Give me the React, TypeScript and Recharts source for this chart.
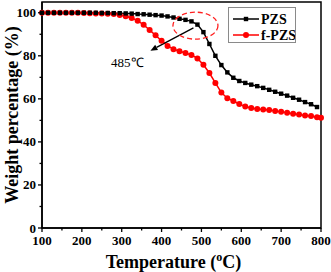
import React from 'react';
import {
  LineChart,
  Line,
  XAxis,
  YAxis,
  ReferenceDot,
  ReferenceLine,
  ReferenceArea
} from 'recharts';

// temperature (°C)
const temps = [
  100, 115, 130, 145, 160, 175, 190, 205, 220, 235, 250, 265, 280, 295, 310, 325,
  340, 355, 370, 385, 400, 415, 430, 445, 460, 475, 490, 505, 520, 535, 550, 565,
  580, 595, 610, 625, 640, 655, 670, 685, 700, 715, 730, 745, 760, 775, 790, 800
];

// weight percentage (%)
const pzs = [
  100, 100, 100, 100, 100, 100, 100, 100, 100, 100, 99.9, 99.9, 99.8, 99.8, 99.7, 99.6,
  99.4, 99.3, 99.1, 98.9, 98.7, 98.3, 97.8, 97.2, 96.7, 96.0, 94.5, 91.0, 85.5, 80.0, 75.7, 72.3,
  69.8, 68.3, 67.4, 66.6, 65.9, 65.1, 64.2, 63.3, 62.4, 61.5, 60.5, 59.6, 58.5, 57.5, 56.2, null
];
const fpzs = [
  100, 100, 100, 100, 100, 100, 100, 99.9, 99.8, 99.7, 99.6, 99.5, 99.4, 99.0, 98.4, 97.6,
  96.3, 94.4, 92.0, 89.5, 87.0, 84.6, 83.1, 82.1, 81.3, 80.4, 78.8, 75.8, 72.0, 67.4, 62.9, 60.3,
  59.0, 57.6, 56.4, 55.8, 55.3, 55.0, 54.8, 54.4, 54.0, 53.6, 53.1, 52.7, 52.3, 52.0, 51.5, 51.2
];

const xTicks = [100, 150, 200, 250, 300, 350, 400, 450, 500, 550, 600, 650, 700, 750, 800];
const yTicks = [0, 10, 20, 30, 40, 50, 60, 70, 80, 90, 100];

const data = temps.map((t, i) => ({ t, pzs: pzs[i], fpzs: fpzs[i] }));

const FONT = '"Liberation Serif", "Times New Roman", serif';

const XTick = (props: any) => {
  const { x, y, payload } = props;
  const major = payload.value % 100 === 0;
  return (
    <g>
      <line x1={x} y1={y} x2={x} y2={y + (major ? 4 : 2.5)} stroke="#000" strokeWidth={1.3} />
      {major && (
        <text x={x} y={y + 17} textAnchor="middle" fontFamily={FONT} fontWeight="bold" fontSize={13} fill="#000">
          {payload.value}
        </text>
      )}
    </g>
  );
};

const YTick = (props: any) => {
  const { x, y, payload } = props;
  const major = payload.value % 20 === 0;
  return (
    <g>
      <line x1={x} y1={y} x2={x - (major ? 4 : 2.5)} y2={y} stroke="#000" strokeWidth={1.3} />
      {major && (
        <text x={x - 6} y={y + 4.5} textAnchor="end" fontFamily={FONT} fontWeight="bold" fontSize={13} fill="#000">
          {payload.value}
        </text>
      )}
    </g>
  );
};

const SquareDot = (props: any) => {
  const { cx, cy, index } = props;
  if (cx == null || cy == null) return <g key={`s-${index}`} />;
  return <rect key={`s-${index}`} x={cx - 2.2} y={cy - 2.2} width={4.4} height={4.4} fill="#000" />;
};

const CircleDot = (props: any) => {
  const { cx, cy, index } = props;
  if (cx == null || cy == null) return <g key={`c-${index}`} />;
  return <circle key={`c-${index}`} cx={cx} cy={cy} r={3} fill="#ff0000" />;
};

const LegendBox = () => (
  <div
    style={{
      position: 'absolute',
      left: 228,
      top: 7,
      border: '1px solid #8a8a8a',
      width: 68,
      height: 36,
      background: '#fff',
      boxSizing: 'border-box'
    }}
  >
    <svg width={66} height={34} style={{ display: 'block' }}>
      <line x1={4} y1={11} x2={30} y2={11} stroke="#000" strokeWidth={1.5} />
      <rect x={14.8} y={8.8} width={4.4} height={4.4} fill="#000" />
      <text x={32} y={16} fontFamily={FONT} fontWeight="bold" fontSize={14}>PZS</text>
      <line x1={4} y1={27} x2={30} y2={27} stroke="#ff0000" strokeWidth={1.5} />
      <circle cx={17} cy={27} r={3} fill="#ff0000" />
      <text x={32} y={32} fontFamily={FONT} fontWeight="bold" fontSize={14}>f-PZS</text>
    </svg>
  </div>
);

const Ellipse = (props: any) => (
  <ellipse cx={props.cx} cy={props.cy} rx={22.5} ry={13.5} fill="none" stroke="#ff2020" strokeWidth={1.3} strokeDasharray="5 3" />
);

const ArrowLine = (props: any) => {
  const { x1, y1, x2, y2 } = props;
  const ang = Math.atan2(y2 - y1, x2 - x1);
  const len = 7;
  const w = 3;
  const bx = x2 - len * Math.cos(ang);
  const by = y2 - len * Math.sin(ang);
  const px = -Math.sin(ang) * w;
  const py = Math.cos(ang) * w;
  return (
    <g>
      <line x1={x1} y1={y1} x2={bx} y2={by} stroke="#000" strokeWidth={1.3} />
      <polygon points={`${x2},${y2} ${bx + px},${by + py} ${bx - px},${by - py}`} fill="#000" />
    </g>
  );
};

const TempText = (props: any) => (
  <text x={props.cx} y={props.cy + 5} textAnchor="middle" fontFamily={FONT} fontSize={13} fill="#000">
    485℃
  </text>
);

const XLabel = (props: any) => {
  const { viewBox } = props;
  const cx = viewBox.x + viewBox.width / 2 - 8;
  return (
    <text x={cx} y={viewBox.y + 40} textAnchor="middle" fontFamily={FONT} fontWeight="bold" fontSize={18} fill="#000">
      Temperature (<tspan fontSize={12} dy={-7}>o</tspan><tspan dy={7}>C)</tspan>
    </text>
  );
};

const YLabel = (props: any) => {
  const { viewBox } = props;
  const cy = viewBox.y + viewBox.height / 2;
  return (
    <text
      x={12}
      y={cy}
      transform={`rotate(-90, 12, ${cy})`}
      textAnchor="middle"
      dominantBaseline="central"
      fontFamily={FONT}
      fontWeight="bold"
      fontSize={18}
      fill="#000"
    >
      Weight percentage (%)
    </text>
  );
};

export default function App() {
  return (
    <div style={{ position: 'absolute', left: 0, top: 0, width: 331, height: 272, background: '#fff' }}>
      <LineChart width={331} height={272} data={data} margin={{ top: 2, right: 10, left: 0, bottom: 0 }}>
        <XAxis
          dataKey="t"
          type="number"
          domain={[100, 800]}
          ticks={xTicks}
          interval={0}
          tick={<XTick />}
          tickLine={false}
          tickSize={0}
          tickMargin={0}
          height={44}
          axisLine={{ stroke: '#000', strokeWidth: 1.5 }}
          label={<XLabel />}
        />
        <YAxis
          type="number"
          domain={[0, 105]}
          ticks={yTicks}
          interval={0}
          tick={<YTick />}
          tickLine={false}
          tickSize={0}
          tickMargin={0}
          width={42}
          axisLine={{ stroke: '#000', strokeWidth: 1.5 }}
          label={<YLabel />}
        />
        <ReferenceArea x1={100} x2={800} y1={0} y2={105} fill="none" stroke="#000" strokeWidth={1.5} ifOverflow="visible" />
        <Line
          dataKey="fpzs"
          stroke="#ff0000"
          strokeWidth={1.5}
          dot={<CircleDot />}
          isAnimationActive={false}
        />
        <Line
          dataKey="pzs"
          stroke="#000"
          strokeWidth={1.5}
          dot={<SquareDot />}
          isAnimationActive={false}
        />
        <ReferenceDot x={485} y={94} shape={<Ellipse />} />
        <ReferenceLine
          segment={[{ x: 480, y: 93 }, { x: 372, y: 82.4 }]}
          shape={<ArrowLine />}
        />
        <ReferenceDot x={314} y={77} shape={<TempText />} />
      </LineChart>
      <LegendBox />
    </div>
  );
}
